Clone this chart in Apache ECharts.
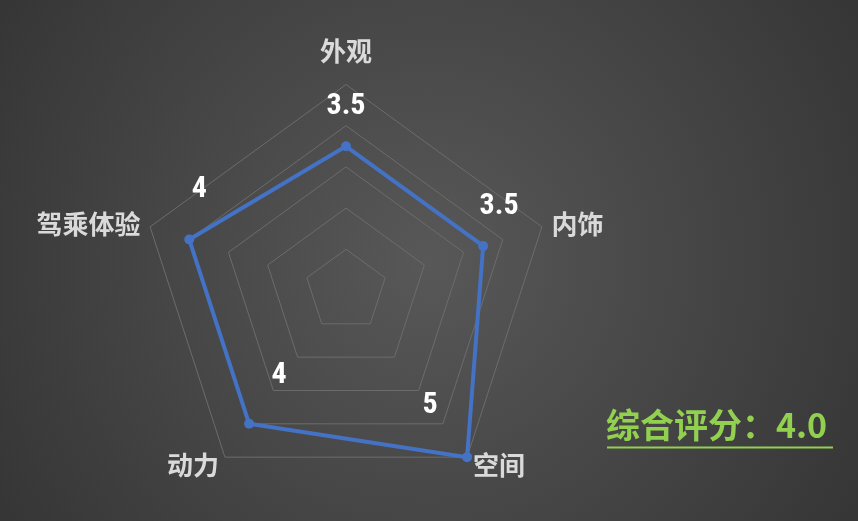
<!DOCTYPE html>
<html lang="zh">

<head>
    <meta charset="UTF-8">
    <title>综合评分</title>
    <style>
        html, body { margin: 0; padding: 0; }
        #RadarChart { width: 858px; height: 521px; }
    </style>
</head>

<body onload="setup()">
    <div id="RadarChart"></div>

    <script src="https://cdn.jsdelivr.net/npm/echarts@6/dist/echarts.min.js"></script>
    <script>
        // indicators, counter-clockwise starting from the top (echarts radar order)
        var categories = ['外观', '驾乘体验', '动力', '空间', '内饰']
        var scores = [3.5, 4, 4, 5, 3.5]
        var maxScore = 5
        var overall = '4.0'

        // where each value label sits relative to its point (px)
        var labelOffsets = [[0, -40], [10, -50], [30, -48], [-37, -52], [16, -39]]

        var RadarChart
        var center = [346, 290.5]
        var radius = 206

        function setup() {
            RadarChart = echarts.init(document.getElementById('RadarChart'))

            let indicator = categories.map(c => ({ name: c, max: maxScore, min: 0 }))

            // label points go on a hidden polar grid that lines up with the radar
            let step = 360 / categories.length
            let labelData = scores.map((s, i) => ({
                value: [s, i * step],
                label: { offset: labelOffsets[i] }
            }))

            let option = {
                backgroundColor: {
                    type: 'radial', x: 0.5, y: 0.5, r: 0.95,
                    colorStops: [
                        { offset: 0, color: '#585858' },
                        { offset: 1, color: '#363636' }
                    ]
                },
                radar: {
                    center: center,
                    radius: radius,
                    startAngle: 90,
                    shape: 'polygon',
                    splitNumber: 5,
                    nameGap: 10,
                    indicator: indicator,
                    axisName: {
                        color: '#dadada',
                        fontSize: 26,
                        fontWeight: 'bold',
                        fontFamily: 'Noto Sans CJK SC',
                        formatter: function (name) {
                            return name === categories[0] ? '{top|' + name + '}' : name
                        },
                        rich: {
                            top: {
                                color: '#dadada', fontSize: 26, fontWeight: 'bold',
                                fontFamily: 'Noto Sans CJK SC', padding: [0, 0, 10, 0]
                            }
                        }
                    },
                    axisLine: { show: false },
                    axisTick: { show: false },
                    axisLabel: { show: false },
                    splitArea: { show: false },
                    splitLine: { lineStyle: { color: '#6c6c6c', width: 1 } }
                },
                polar: { center: center, radius: radius },
                angleAxis: {
                    type: 'value', min: 0, max: 360, startAngle: 90, clockwise: false,
                    show: false
                },
                radiusAxis: { type: 'value', min: 0, max: maxScore, show: false },
                series: [
                    {
                        name: '评分',
                        type: 'radar',
                        symbol: 'circle',
                        symbolSize: 10,
                        lineStyle: { color: '#4472C4', width: 4 },
                        itemStyle: { color: '#4472C4' },
                        data: [{ value: scores }]
                    },
                    {
                        name: 'labels',
                        type: 'scatter',
                        coordinateSystem: 'polar',
                        symbolSize: 0,
                        silent: true,
                        // scatter defaults to 0.8 opacity, which the labels inherit
                        itemStyle: { color: 'transparent', opacity: 1 },
                        label: {
                            show: true,
                            position: 'inside',
                            color: '#ffffff',
                            textBorderWidth: 0,
                            fontSize: 30,
                            fontWeight: 'bold',
                            fontFamily: 'Roboto Condensed',
                            formatter: p => String(p.value[0])
                        },
                        data: labelData
                    }
                ],
                graphic: [
                    {
                        type: 'text',
                        left: 606,
                        top: 408,
                        style: {
                            text: '综合评分：' + overall,
                            fill: '#92D050',
                            fontSize: 34,
                            fontWeight: 'bold',
                            fontFamily: 'Noto Sans CJK SC'
                        }
                    },
                    {
                        type: 'line',
                        shape: { x1: 607, y1: 447.5, x2: 833, y2: 447.5 },
                        style: { stroke: '#92D050', lineWidth: 2 }
                    }
                ]
            }
            RadarChart.setOption(option, true)
        }
    </script>
</body>

</html>
